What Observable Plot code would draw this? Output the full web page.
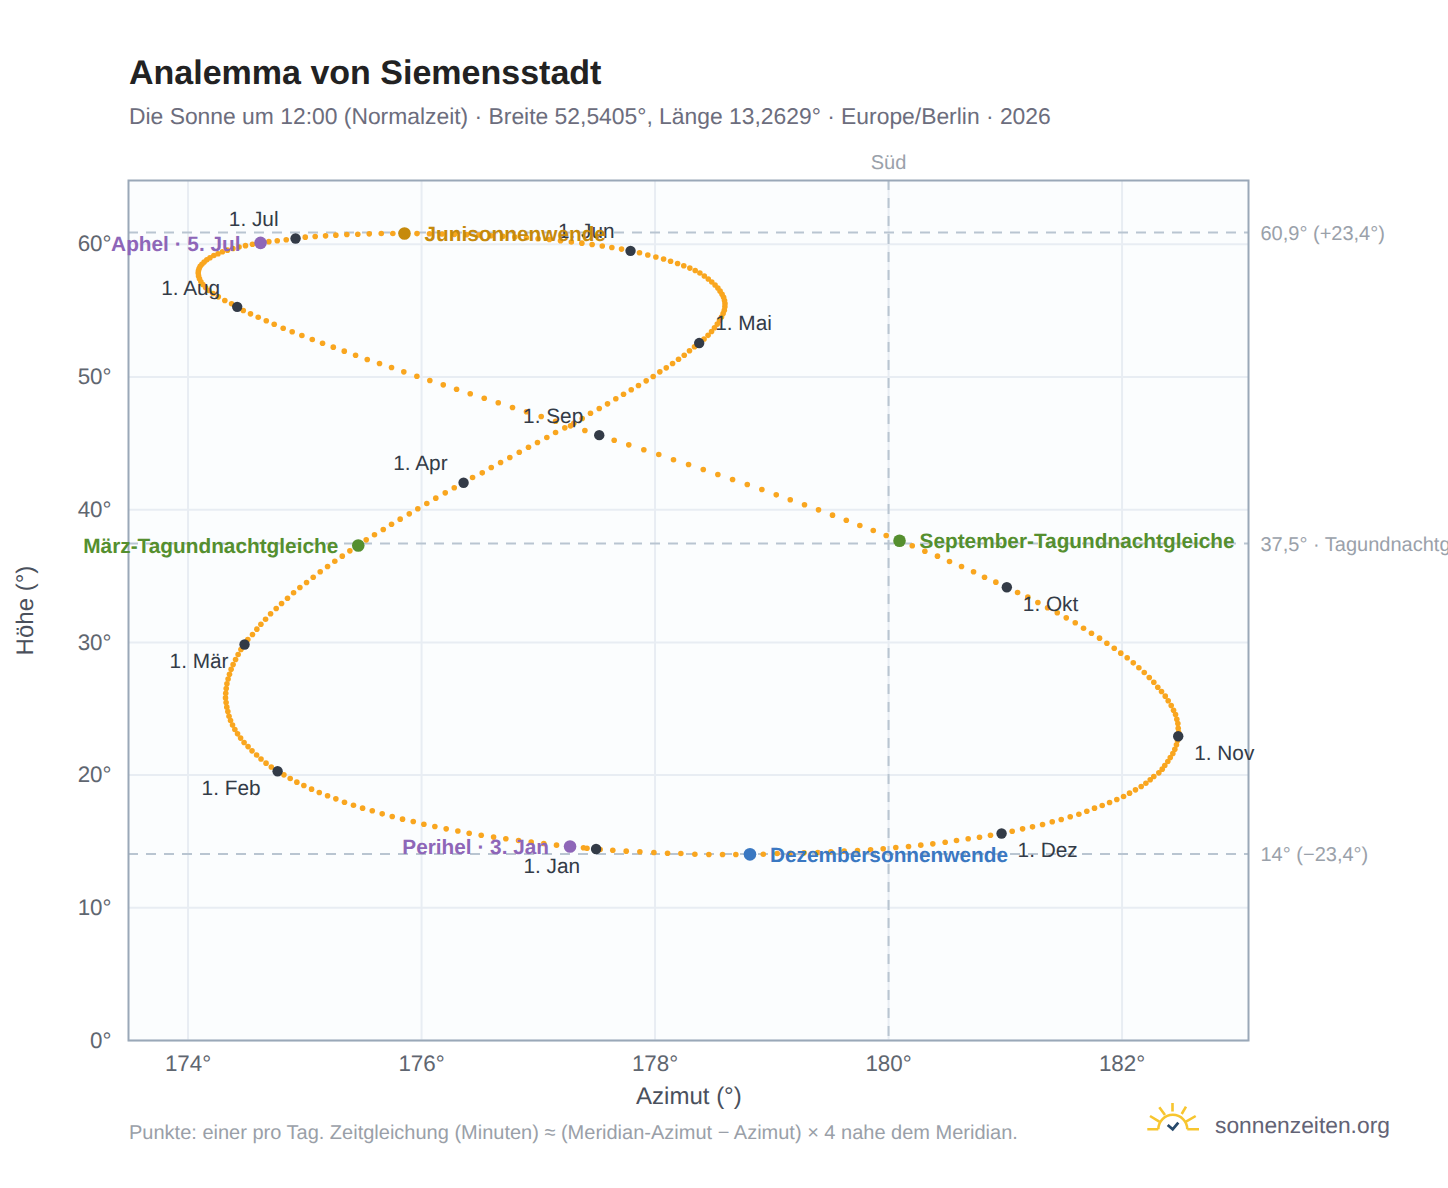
<!DOCTYPE html>
<html lang="de">
<head>
<meta charset="utf-8">
<title>Analemma von Siemensstadt</title>
<script src="https://cdn.jsdelivr.net/npm/d3@7"></script>
<script src="https://cdn.jsdelivr.net/npm/@observablehq/plot@0.6"></script>
<style>
  html, body { margin: 0; padding: 0; background: #fff; width: 1448px; height: 1188px; overflow: hidden; font-family: "Liberation Sans", Arial, sans-serif; text-rendering: geometricPrecision; }
  #page { position: relative; width: 1448px; height: 1188px; }
  #head { position: absolute; left: 129px; top: 0; height: 140px; width: 1300px; }
  #head h1 { position: absolute; margin: 0; top: 53px; left: 0; font-size: 34px; line-height: 40px; font-weight: 700; color: #222; white-space: nowrap; }
  #head p { position: absolute; margin: 0; top: 103px; left: 0; font-size: 22.87px; line-height: 26px; color: #6c6d7d; white-space: nowrap; }
  #chart { position: absolute; left: 0; top: 140px; }
  #chart svg { display: block; text-rendering: geometricPrecision; }
  #caption { position: absolute; left: 129px; top: 1122px; font-size: 20px; line-height: 22px; color: #9a9fa8; white-space: nowrap; }
  #brand { position: absolute; left: 1215px; top: 1111px; font-size: 22.8px; line-height: 28px; color: #636375; white-space: nowrap; }
  #logo { position: absolute; left: 1145px; top: 1100px; }
</style>
</head>
<body>
<div id="page">
  <div id="head">
    <h1>Analemma von Siemensstadt</h1>
    <p>Die Sonne um 12:00 (Normalzeit) · Breite 52,5405°, Länge 13,2629° · Europe/Berlin · 2026</p>
  </div>
  <div id="chart"></div>
  <div id="caption">Punkte: einer pro Tag. Zeitgleichung (Minuten) ≈ (Meridian-Azimut − Azimut) × 4 nahe dem Meridian.</div>
  <svg id="logo" width="58" height="36" viewBox="0 0 58 36" fill="none">
    <g stroke="#f7c52f" stroke-width="2.6" stroke-linecap="butt">
      <path d="M2.3 29.3 H13.3 M42.3 29.3 H54"/>
      <path d="M13.3 29.3 A14.5 14.5 0 0 1 42.3 29.3"/>
      <path d="M27.5 3 V11.5 M14.3 7.3 L20 15 M41 6.7 L36.7 14 M5 16 L14.3 21.7 M50.7 16 L41 21.7"/>
    </g>
    <path d="M22.7 25 L27.7 29.3 L33.3 22.7" stroke="#27496b" stroke-width="2.8"/>
  </svg>
  <div id="brand">sonnenzeiten.org</div>
</div>
<script>
// Azimut (°) und Höhe (°) je Tag, monatsweise
const azJan = [177.495,177.387,177.272,177.156,177.047,176.939,176.831,176.722,176.617,176.511,176.408,176.311,176.211,176.114,176.02,175.929,175.837,175.749,175.663,175.578,175.495,175.417,175.34,175.266,175.195,175.124,175.058,174.992,174.932,174.875,174.821];
const altJan = [14.43,14.53,14.62,14.72,14.85,14.95,15.07,15.2,15.33,15.47,15.62,15.79,15.95,16.13,16.3,16.5,16.68,16.88,17.08,17.31,17.51,17.73,17.96,18.21,18.44,18.69,18.94,19.22,19.47,19.74,20.02];
const azFeb = [174.767,174.713,174.668,174.625,174.587,174.548,174.514,174.48,174.45,174.424,174.401,174.381,174.364,174.351,174.341,174.332,174.326,174.321,174.323,174.327,174.333,174.343,174.355,174.369,174.386,174.407,174.429,174.453];
const altFeb = [20.29,20.61,20.9,21.21,21.52,21.83,22.15,22.46,22.79,23.11,23.44,23.77,24.11,24.44,24.79,25.12,25.47,25.82,26.17,26.53,26.88,27.24,27.6,27.97,28.34,28.71,29.09,29.47];
const azMar = [174.484,174.512,174.552,174.589,174.624,174.664,174.707,174.755,174.801,174.852,174.904,174.958,175.015,175.072,175.132,175.195,175.257,175.321,175.386,175.458,175.526,175.597,175.672,175.743,175.817,175.895,175.968,176.045,176.122,176.203,176.28];
const altMar = [29.84,30.22,30.6,31.0,31.37,31.75,32.16,32.56,32.93,33.33,33.74,34.14,34.51,34.91,35.32,35.72,36.12,36.5,36.9,37.3,37.73,38.11,38.51,38.91,39.29,39.69,40.07,40.47,40.87,41.27,41.65];
const azApr = [176.36,176.437,176.52,176.597,176.677,176.756,176.837,176.916,176.993,177.073,177.148,177.227,177.304,177.376,177.447,177.522,177.593,177.664,177.73,177.796,177.858,177.924,177.984,178.041,178.096,178.15,178.201,178.25,178.295,178.338];
const altApr = [42.03,42.43,42.78,43.18,43.56,43.93,44.33,44.71,45.07,45.44,45.82,46.17,46.52,46.87,47.27,47.63,47.98,48.36,48.7,49.04,49.36,49.71,50.04,50.39,50.69,51.02,51.34,51.64,51.98,52.28];
const azMai = [178.378,178.42,178.454,178.484,178.509,178.533,178.552,178.569,178.583,178.593,178.598,178.599,178.595,178.587,178.574,178.557,178.538,178.514,178.486,178.456,178.422,178.384,178.344,178.298,178.246,178.193,178.133,178.073,178.007,177.938,177.867];
const altMai = [52.56,52.86,53.14,53.43,53.71,53.99,54.26,54.52,54.78,55.03,55.29,55.53,55.77,56.01,56.24,56.47,56.71,56.93,57.16,57.39,57.61,57.84,58.03,58.21,58.38,58.55,58.72,58.89,59.04,59.2,59.36];
const azJun = [177.79,177.713,177.63,177.548,177.461,177.373,177.283,177.19,177.095,176.998,176.899,176.799,176.697,176.594,176.491,176.386,176.281,176.175,176.068,175.961,175.854,175.754,175.655,175.552,175.454,175.36,175.266,175.178,175.089,175.004];
const altJun = [59.51,59.64,59.76,59.87,59.99,60.09,60.18,60.27,60.36,60.42,60.49,60.55,60.6,60.65,60.7,60.73,60.75,60.78,60.8,60.81,60.82,60.82,60.82,60.79,60.76,60.74,60.69,60.64,60.59,60.54];
const azJul = [174.921,174.841,174.764,174.692,174.621,174.552,174.492,174.437,174.385,174.338,174.295,174.257,174.221,174.188,174.161,174.138,174.119,174.104,174.095,174.089,174.087,174.09,174.098,174.11,174.127,174.15,174.178,174.214,174.259,174.315,174.373];
const altJul = [60.44,60.35,60.27,60.2,60.11,60.01,59.9,59.8,59.69,59.56,59.44,59.29,59.16,58.99,58.83,58.67,58.5,58.34,58.18,58.01,57.84,57.62,57.4,57.18,56.97,56.75,56.52,56.29,56.04,55.77,55.52];
const azAug = [174.421,174.473,174.535,174.601,174.67,174.738,174.815,174.892,174.975,175.064,175.152,175.244,175.338,175.435,175.535,175.64,175.743,175.848,175.96,176.071,176.186,176.3,176.417,176.537,176.657,176.779,176.899,177.025,177.148,177.276,177.399];
const altAug = [55.29,55.01,54.76,54.51,54.24,53.98,53.68,53.41,53.13,52.83,52.55,52.25,51.95,51.64,51.32,51.02,50.72,50.39,50.06,49.74,49.41,49.08,48.74,48.4,48.06,47.7,47.38,47.02,46.67,46.32,45.97];
const azSep = [177.522,177.65,177.775,177.904,178.032,178.158,178.287,178.413,178.538,178.664,178.79,178.915,179.038,179.158,179.28,179.4,179.52,179.638,179.754,179.869,179.98,180.094,180.203,180.311,180.419,180.522,180.625,180.728,180.822,180.919];
const altSep = [45.62,45.24,44.89,44.52,44.16,43.76,43.41,43.03,42.65,42.28,41.9,41.52,41.12,40.75,40.37,39.99,39.59,39.21,38.81,38.43,38.06,37.66,37.28,36.87,36.5,36.1,35.72,35.32,34.91,34.54];
const azOkt = [181.013,181.105,181.193,181.279,181.362,181.445,181.522,181.599,181.67,181.738,181.807,181.87,181.933,181.989,182.044,182.096,182.144,182.19,182.233,182.272,182.306,182.338,182.37,182.395,182.421,182.441,182.458,182.469,182.478,182.481,182.484];
const altOkt = [34.16,33.76,33.41,33.01,32.61,32.23,31.85,31.48,31.07,30.69,30.32,29.94,29.56,29.19,28.84,28.46,28.09,27.73,27.36,27.0,26.62,26.3,25.95,25.6,25.25,24.89,24.57,24.21,23.89,23.53,23.23];
const azNov = [182.481,182.475,182.466,182.452,182.435,182.413,182.392,182.366,182.344,182.315,182.272,182.241,182.204,182.164,182.115,182.064,182.013,181.955,181.893,181.83,181.764,181.698,181.63,181.556,181.479,181.402,181.319,181.233,181.148,181.059];
const altNov = [22.93,22.61,22.28,21.95,21.63,21.33,21.03,20.72,20.45,20.17,19.89,19.65,19.39,19.14,18.89,18.64,18.39,18.16,17.94,17.71,17.51,17.28,17.05,16.86,16.65,16.48,16.28,16.1,15.95,15.77];
const azDez = [180.968,180.873,180.779,180.682,180.582,180.485,180.379,180.276,180.171,180.062,179.954,179.846,179.734,179.62,179.506,179.394,179.276,179.158,179.046,178.927,178.813,178.692,178.578,178.461,178.341,178.221,178.107,177.99,177.87,177.753,177.638,177.53,177.417];
const altDez = [15.6,15.47,15.32,15.2,15.07,14.94,14.82,14.72,14.62,14.54,14.45,14.37,14.32,14.27,14.22,14.17,14.14,14.11,14.09,14.04,14.03,14.02,14.02,14.02,14.04,14.09,14.11,14.17,14.22,14.27,14.34,14.39,14.49];

// Monatserste: Beschriftung und Wert
const monatLabels = ["1. Jan","1. Feb","1. Mär","1. Apr","1. Mai","1. Jun","1. Jul","1. Aug","1. Sep","1. Okt","1. Nov","1. Dez"];
const monatAz = [177.495,174.767,174.484,176.36,178.378,177.79,174.921,174.421,177.522,181.013,182.481,180.968];
const monatAlt = [14.43,20.29,29.84,42.03,52.56,59.51,60.44,55.29,45.62,34.16,22.93,15.6];

// Besondere Tage
const eventLabels = ["Perihel · 3. Jan","März-Tagundnachtgleiche","Junisonnenwende","Aphel · 5. Jul","September-Tagundnachtgleiche","Dezembersonnenwende"];
const eventAz = [177.272,175.458,175.854,174.621,180.094,178.813];
const eventAlt = [14.62,37.3,60.82,60.11,37.66,14.03];

// Referenzlinien rechts
const refAlt = [60.9,37.46,14.06];
const refLabels = ["60,9° (+23,4°)","37,5° · Tagundnachtgleiche","14° (−23,4°)"];

const xTicks = [174,176,178,180,182];
const yTicks = [0,10,20,30,40,50,60];

const days = [
  [azJan,altJan],[azFeb,altFeb],[azMar,altMar],[azApr,altApr],[azMai,altMai],[azJun,altJun],
  [azJul,altJul],[azAug,altAug],[azSep,altSep],[azOkt,altOkt],[azNov,altNov],[azDez,altDez]
].flatMap(([az, alt]) => az.map((a, i) => ({az: a, alt: alt[i]})));

const monate = monatLabels.map((label, i) => ({label, az: monatAz[i], alt: monatAlt[i]}));
const events = eventLabels.map((label, i) => ({label, az: eventAz[i], alt: eventAlt[i]}));
const refs = refLabels.map((label, i) => ({label, alt: refAlt[i]}));

// Darstellung (keine Daten)
const monatStil = {
  "1. Jan":[-16,17,"end"],"1. Feb":[-17,17,"end"],"1. Mär":[-16,17,"end"],
  "1. Apr":[-16,-19,"end"],"1. Mai":[16,-20,"start"],"1. Jun":[-16,-19,"end"],
  "1. Jul":[-17,-19,"end"],"1. Aug":[-17,-18,"end"],"1. Sep":[-16,-19,"end"],
  "1. Okt":[16,17,"start"],"1. Nov":[16,17,"start"],"1. Dez":[16,17,"start"]
};
const eventStil = {
  "Perihel · 3. Jan":["#8e66b8",-21,1,"end"],
  "März-Tagundnachtgleiche":["#558f2f",-20,1,"end"],
  "Junisonnenwende":["#c68a0c",20,1,"start"],
  "Aphel · 5. Jul":["#8e66b8",-20,1,"end"],
  "September-Tagundnachtgleiche":["#558f2f",20,1,"start"],
  "Dezembersonnenwende":["#3a78c2",20,1,"start"]
};

const chart = Plot.plot({
  width: 1448,
  height: 980,
  marginLeft: 128,
  marginRight: 200,
  marginTop: 40,
  marginBottom: 80,
  style: {fontFamily: "'Liberation Sans', Arial, sans-serif", background: "transparent", overflow: "hidden"},
  x: {domain: [173.49, 183.083]},
  y: {domain: [0, 64.81]},
  marks: [
    Plot.frame({fill: "#fbfdfe", stroke: null}),
    Plot.gridX(xTicks, {stroke: "#e8edf3", strokeOpacity: 1, strokeWidth: 2}),
    Plot.gridY(yTicks, {stroke: "#e8edf3", strokeOpacity: 1, strokeWidth: 2}),
    Plot.ruleY(refs, {y: "alt", stroke: "#b9c5d1", strokeWidth: 2, strokeDasharray: "10,8"}),
    Plot.ruleX([180], {stroke: "#b9c5d1", strokeWidth: 2, strokeDasharray: "10,8"}),
    Plot.frame({stroke: "#9aa8b8", strokeWidth: 2}),
    Plot.axisX(xTicks, {
      tickFormat: d => d + "°", tickSize: 0, tickPadding: 15, fontSize: 22.4, color: "#5f6670",
      label: null
    }),
    Plot.axisY(yTicks, {
      tickFormat: d => d + "°", tickSize: 0, tickPadding: 17, fontSize: 22.4, color: "#5f6670",
      label: null
    }),
    Plot.text(["Azimut (°)"], {
      x: () => 178.29, y: () => 0, text: d => d, dy: 56, textAnchor: "middle",
      fontSize: 24, fill: "#4a505c", lineAnchor: "middle"
    }),
    Plot.text(["Höhe (°)"], {
      x: () => 173.49, y: () => 32.4, text: d => d, dx: -103, rotate: -90, textAnchor: "middle",
      fontSize: 24, fill: "#4a505c", lineAnchor: "middle"
    }),
    Plot.dot(days, {x: "az", y: "alt", r: 2.8, fill: "#f9a61f"}),
    Plot.dot(monate, {x: "az", y: "alt", r: 5.2, fill: "#333b47"}),
    ...monate.map(d => Plot.text([d], {
      x: "az", y: "alt", text: "label", dx: monatStil[d.label][0], dy: monatStil[d.label][1],
      textAnchor: monatStil[d.label][2], fontSize: 20.8, fill: "#333b47", lineAnchor: "middle"
    })),
    ...events.map(d => Plot.dot([d], {x: "az", y: "alt", r: 6.3, fill: eventStil[d.label][0]})),
    ...events.map(d => Plot.text([d], {
      x: "az", y: "alt", text: "label", dx: eventStil[d.label][1], dy: eventStil[d.label][2],
      textAnchor: eventStil[d.label][3], fontSize: 20.8, fontWeight: 700, fill: eventStil[d.label][0], lineAnchor: "middle"
    })),
    Plot.text(refs, {
      x: () => 183.083, y: "alt", text: "label", dx: 12, dy: 1, textAnchor: "start",
      fontSize: 20, fill: "#9aa1aa", lineAnchor: "middle"
    }),
    Plot.text(["Süd"], {
      x: () => 180, y: () => 64.81, text: d => d, dy: -18, textAnchor: "middle",
      fontSize: 20, fill: "#9aa1aa", lineAnchor: "middle"
    })
  ]
});
document.getElementById("chart").appendChild(chart);
</script>
</body>
</html>
